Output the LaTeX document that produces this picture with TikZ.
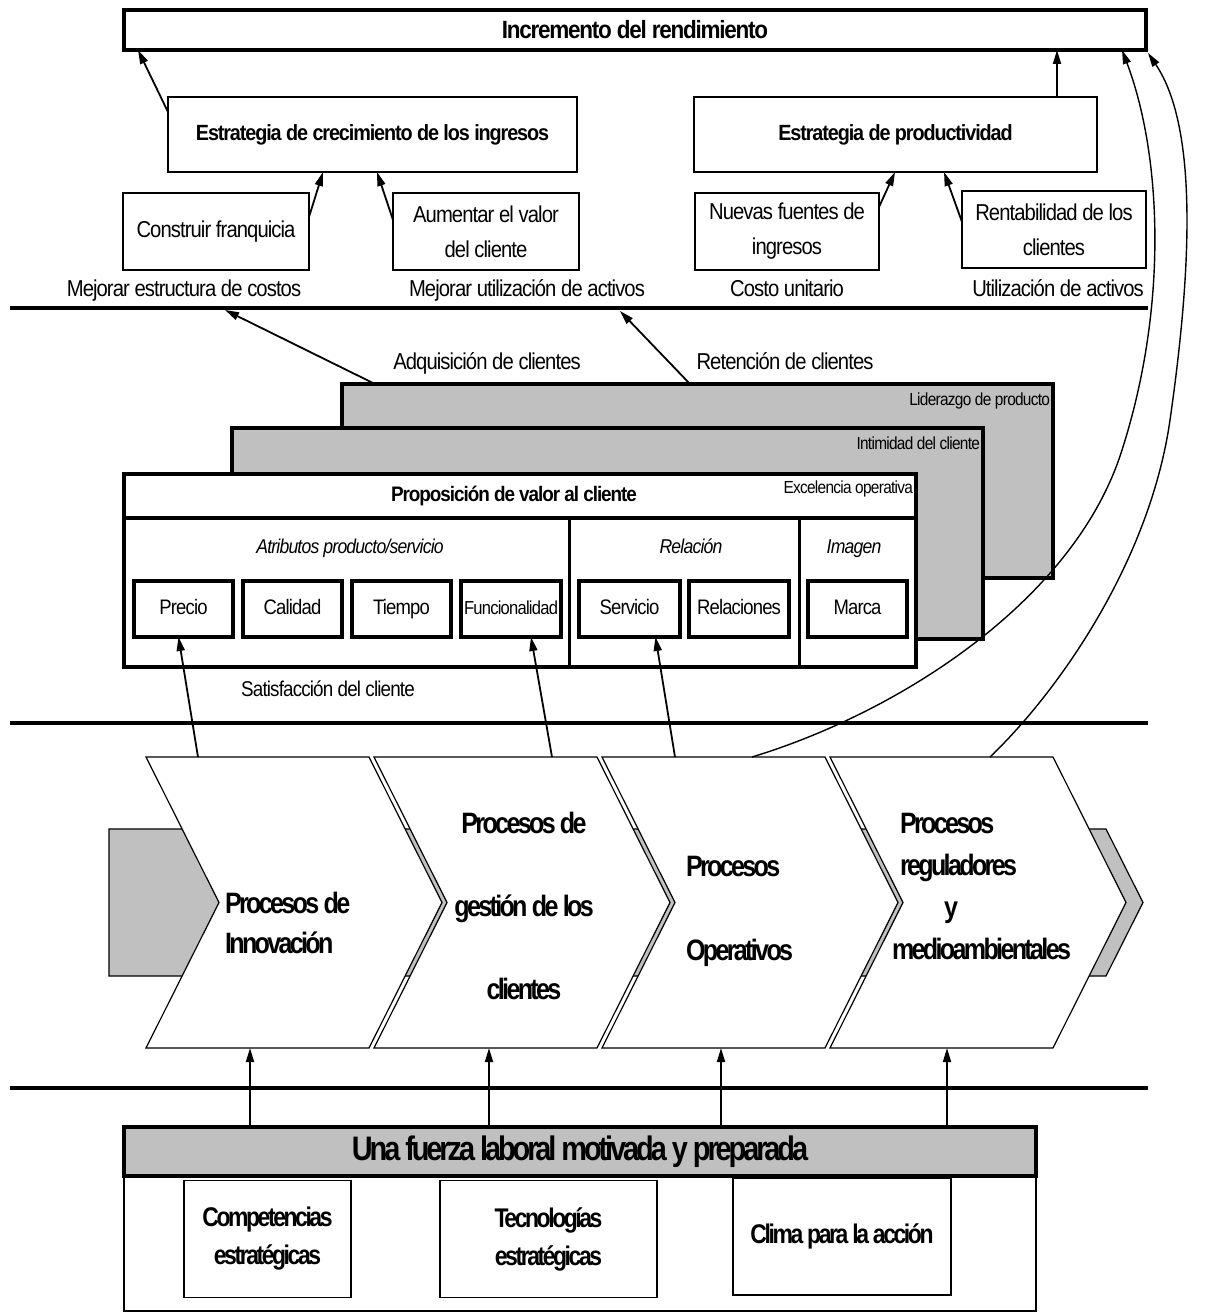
\documentclass[tikz,border=0pt]{standalone}
\usepackage{fontspec}
\setmainfont{Liberation Sans}
\newfontfamily\regf[FakeStretch=0.88,LetterSpace=-4]{Liberation Sans}
\newfontfamily\boldf[FakeStretch=0.85,LetterSpace=-9]{Liberation Sans Bold}
\newfontfamily\boldm[FakeStretch=0.9,LetterSpace=-5]{Liberation Sans Bold}
\newfontfamily\itf[FakeStretch=0.88,LetterSpace=-4]{Liberation Sans Italic}
\usetikzlibrary{arrows.meta,calc}
\definecolor{panelgray}{HTML}{C0C0C0}
\newcommand\fsz[2]{\fontsize{#1}{#2}\selectfont}
% one process chevron: #1 name of its top-left corner, #2 left x
\newcommand\procchev[2]{%
  \draw[chev] (#2,757) coordinate (#1) -- ++(223,0) -- ++(73,145.5) -- ++(-73,145.5)
    -- ++(-223,0) coordinate (#1b) -- ++(73,-145.5) -- cycle;}

\begin{document}
\begin{tikzpicture}[x=1pt,y=-1pt,
  every node/.style={inner sep=0pt,outer sep=0pt},
  boxthin/.style={draw,line width=1.5pt,fill=white},
  rule/.style={line width=4pt},
  arr/.style={line width=1.8pt,-{Triangle[length=14pt,width=8pt]}},
  loopline/.style={line width=1.4pt,-{Triangle[length=14pt,width=8pt]}},
  chev/.style={draw,line width=1.2pt,fill=white,line join=miter},
  rtxt/.style={font=\regf\fsz{23}{35},align=center},
  lab/.style={font=\regf\fsz{23}{26},text height=16.5pt,text depth=4.5pt},
  btxt/.style={font=\boldm\fsz{22}{26},align=center},
  small/.style={font=\regf\fsz{17.5}{20},text height=12.5pt,text depth=3.5pt},
  itxt/.style={font=\itf\fsz{20}{24},text height=14.5pt,text depth=4pt},
  attr/.style={draw,line width=4pt,fill=white,minimum height=56pt,font=\regf\fsz{21}{24},text height=15pt,text depth=4pt},
  ptxt/.style={font=\boldf\fsz{29.5}{40}},
  baseitem/.style={boxthin,minimum height=117pt,font=\boldf\fsz{27}{38},align=center},
]
\useasboundingbox (0,0) rectangle (1205,1316);

% ---------- financial level ----------
\node[draw,line width=3.5pt,minimum width=1022pt,minimum height=40pt,btxt,font=\boldm\fsz{25}{28}] (top) at (635,30) {Incremento del rendimiento};
\node[boxthin,minimum width=409pt,minimum height=75pt,btxt] (grow) at (372.5,134.5) {Estrategia de crecimiento de los ingresos};
\node[boxthin,minimum width=403pt,minimum height=75pt,btxt] (prod) at (895.5,134.5) {Estrategia de productividad};
\node[boxthin,minimum width=186pt,minimum height=77pt,lab] (cons) at (216,231.5) {Construir franquicia};
\node[boxthin,minimum width=186pt,minimum height=77pt,rtxt] (aum) at (486,231.5) {Aumentar el valor\\del cliente};
\node[boxthin,minimum width=184pt,minimum height=77pt,rtxt] (nuev) at (787,231.5) {Nuevas fuentes de\\ingresos};
\node[boxthin,minimum width=184pt,minimum height=77pt,rtxt] (rent) at (1054,229.5) {Rentabilidad de los\\clientes};

\node[lab] (l1) at (184,290) {Mejorar estructura de costos};
\node[lab] (l2) at (527,290) {Mejorar utilización de activos};
\node[lab] (l3) at (787,290) {Costo unitario};
\node[lab] (l4) at (1058,290) {Utilización de activos};

\draw[arr] ($(grow.north west)+(0,15)$) -- ($(top.south west)+(14,0)$);
\draw[arr] ($(cons.north east)+(0,24)$) -- ($(grow.south west)+(155,0)$);
\draw[arr] ($(aum.north west)+(0,27)$) -- ($(grow.south west)+(209,0)$);
\draw[arr] ($(prod.north west)+(363,0)$) -- ($(top.south west)+(933,0)$);
\draw[arr] ($(nuev.north east)+(0,14)$) -- ($(prod.south west)+(201,0)$);
\draw[arr] ($(rent.north west)+(0,31)$) -- ($(prod.south west)+(250,0)$);

% ---------- level separators ----------
\draw[rule] (10,308) -- (1148,308);
\draw[rule] (10,723) -- (1148,723);
\draw[rule] (10,1088) -- (1148,1088);

% ---------- customer level ----------
\node[draw,line width=4pt,fill=panelgray,minimum width=711pt,minimum height=194pt] (lider) at (697.5,481) {};
\node[draw,line width=4pt,fill=panelgray,minimum width=751pt,minimum height=211pt] (intim) at (607.5,533.5) {};
\node[draw,line width=3.5pt,fill=white,minimum width=792pt,minimum height=193pt] (front) at (520,570.5) {};
\node[small,anchor=east] (lidtxt) at ($(lider.north east)+(-3,17)$) {Liderazgo de producto};
\node[small,anchor=east] (inttxt) at ($(intim.north east)+(-3,17)$) {Intimidad del cliente};
\node[small,anchor=east] (exctxt) at ($(front.north east)+(-3,15)$) {Excelencia operativa};
\node[btxt,font=\boldm\fsz{21}{24}] (vp) at (514,496) {Proposición de valor al cliente};
\draw[line width=3.5pt] ($(front.north west)+(0,44)$) -- ($(front.north east)+(0,44)$);
\draw[line width=3pt] ($(front.north west)+(445,44)$) -- ($(front.south west)+(445,0)$);
\draw[line width=3pt] ($(front.north west)+(675,44)$) -- ($(front.south west)+(675,0)$);
\node[itxt] (g1) at (350,548) {Atributos producto/servicio};
\node[itxt] (g2) at (691,548) {Relación};
\node[itxt] (g3) at (854,548) {Imagen};

\node[attr,minimum width=99pt] (prec) at (183.5,609) {Precio};
\node[attr,minimum width=99pt] (cal) at (292.5,609) {Calidad};
\node[attr,minimum width=99pt] (tiem) at (401.5,609) {Tiempo};
\node[attr,minimum width=100pt,font=\regf\fsz{18.8}{22}] (func) at (511,609) {Funcionalidad};
\node[attr,minimum width=101pt] (serv) at (629.5,609) {Servicio};
\node[attr,minimum width=100pt] (rel) at (739,609) {Relaciones};
\node[attr,minimum width=99pt] (marca) at (857.5,609) {Marca};

\node[lab,font=\regf\fsz{21.4}{24}] (sat) at (328,690) {Satisfacción del cliente};
\node[lab] (adq) at (487,363) {Adquisición de clientes};
\node[lab] (ret) at (785,363) {Retención de clientes};
\coordinate (adqEnd) at (225,310);
\coordinate (retEnd) at (620,311);
\draw[arr] ($(lider.north west)+(33,0)$) -- (adqEnd);
\draw[arr] ($(lider.north west)+(348,0)$) -- (retEnd);

% ---------- internal processes ----------
\draw[fill=panelgray,line width=1.2pt] (109,829) -- (1106,829) -- (1143,902.5) -- (1106,976) -- (109,976) -- cycle;
\procchev{c1}{146}
\procchev{c2}{374}
\procchev{c3}{602}
\procchev{c4}{830}
\node[ptxt,anchor=west,align=left] (t1) at (225,923) {Procesos de\\Innovación};
\node[ptxt,align=center,font=\boldf\fsz{29.5}{83}] (t2) at (524,906) {Procesos de\\gestión de los\\clientes};
\node[ptxt,anchor=west,align=left,font=\boldf\fsz{29.5}{84}] (t3) at (686,911) {Procesos\\Operativos};
\node[ptxt,anchor=west,align=left,font=\boldf\fsz{29.5}{42}] (t4) at (900,886.5) {Procesos\\reguladores\\\hspace*{44pt}y\\\hspace*{-8pt}medioambientales};

\draw[arr] ($(c1)+(52,0)$) -- ($(prec.south)+(-5,0)$);
\draw[arr] ($(c2)+(178,0)$) -- ($(func.south)+(20,0)$);
\draw[arr] ($(c3)+(73,0)$) -- ($(serv.south)+(26,0)$);
\draw[loopline] ($(c3)+(150,0)$) .. controls (900,712) and (1075,600) .. (1122,450)
  .. controls (1170,300) and (1160,150) .. ($(top.south east)+(-24,0)$);
\draw[loopline] ($(c4)+(160,0)$) .. controls (1060,690) and (1150,560) .. (1170,420)
  .. controls (1190,280) and (1200,130) .. ($(top.south east)+(2,3)$);

% ---------- learning and growth ----------
\node[draw,line width=2pt,fill=white,minimum width=912pt,minimum height=135pt] (base) at (580,1243.5) {};
\node[draw,line width=4pt,fill=panelgray,minimum width=912pt,minimum height=49pt,font=\boldf\fsz{34}{40}] (force) at (580,1151.5) {Una fuerza laboral motivada y preparada};
\node[baseitem,minimum width=167pt] (comp) at (267.5,1239) {Competencias\\estratégicas};
\node[baseitem,minimum width=217pt] (tecn) at (548.5,1239) {Tecnologías\\estratégicas};
\node[baseitem,minimum width=218pt] (clima) at (842,1236.5) {Clima para la acción};

\draw[arr] ($(force.north west)+(126,0)$) -- ($(c1b)+(104,0)$);
\draw[arr] ($(force.north west)+(365,0)$) -- ($(c2b)+(115,0)$);
\draw[arr] ($(force.north west)+(597,0)$) -- ($(c3b)+(119,0)$);
\draw[arr] ($(force.north west)+(823,0)$) -- ($(c4b)+(117,0)$);
\end{tikzpicture}
\end{document}
